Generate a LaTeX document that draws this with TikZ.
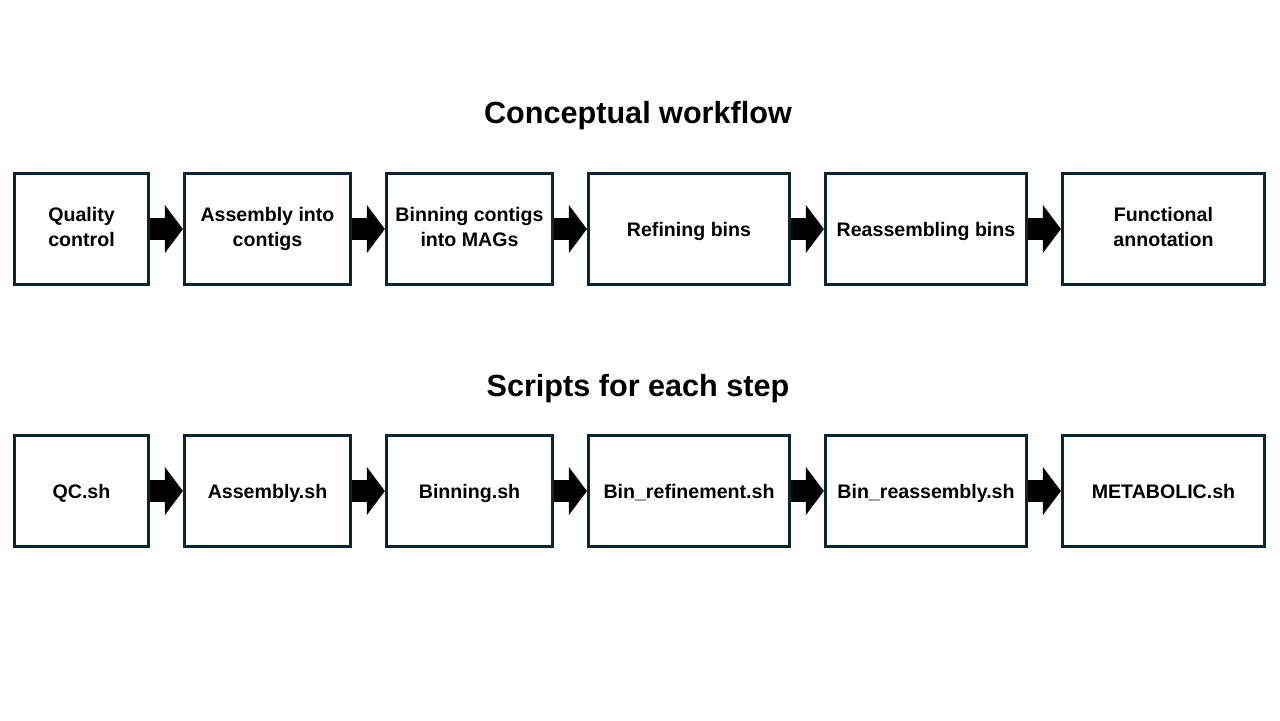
\documentclass[tikz,border=0pt]{standalone}
\usepackage{fontspec}
\setmainfont{Liberation Sans}
\usetikzlibrary{arrows.meta}
\definecolor{boxline}{RGB}{12,37,51}
\newcommand{\boxstrut}{\rule[-2.4pt]{0pt}{12.5pt}}
\begin{document}
\begin{tikzpicture}[x=0.5pt, y=-0.5pt, font=\bfseries,
	stepbox/.style={draw=boxline, line width=1.6pt, minimum height=55.5pt, align=center, font=\fontsize{9.8pt}{12.5pt}\selectfont\bfseries, execute at begin node=\boxstrut, execute at end node=\boxstrut},
	heading/.style={font=\fontsize{15.3pt}{18pt}\selectfont\bfseries, text height=11pt, text depth=3pt},
	blockarrow/.style={line width=11pt, -{Triangle[length=9pt,width=23.5pt]}}]
	\useasboundingbox (0,0) rectangle (1280,720);
	% titles
	\node[heading] (t1) at (638,115) {Conceptual workflow};
	\node[heading] (t2) at (638,388) {Scripts for each step};
	% first row
	\node[stepbox, minimum width=67pt] (c1) at (81.5,229) {Quality\\control};
	\node[stepbox, minimum width=83pt] (c2) at (267.5,229) {Assembly into\\contigs};
	\node[stepbox, minimum width=83pt] (c3) at (469.5,229) {Binning contigs\\into MAGs};
	\node[stepbox, minimum width=100.5pt] (c4) at (689,229) {Refining bins};
	\node[stepbox, minimum width=100.5pt] (c5) at (926,229) {Reassembling bins};
	\node[stepbox, minimum width=101pt] (c6) at (1163.5,229) {Functional\\annotation};
	% second row
	\node[stepbox, minimum width=67pt] (s1) at (81.5,491) {QC.sh};
	\node[stepbox, minimum width=83pt] (s2) at (267.5,491) {Assembly.sh};
	\node[stepbox, minimum width=83pt] (s3) at (469.5,491) {Binning.sh};
	\node[stepbox, minimum width=100.5pt] (s4) at (689,491) {Bin\_refinement.sh};
	\node[stepbox, minimum width=100.5pt] (s5) at (926,491) {Bin\_reassembly.sh};
	\node[stepbox, minimum width=101pt] (s6) at (1163.5,491) {METABOLIC.sh};
	\foreach \i/\j in {1/2,2/3,3/4,4/5,5/6}{
		\draw[blockarrow] (c\i.east) -- (c\j.west);
		\draw[blockarrow] (s\i.east) -- (s\j.west);
	}
\end{tikzpicture}
\end{document}
